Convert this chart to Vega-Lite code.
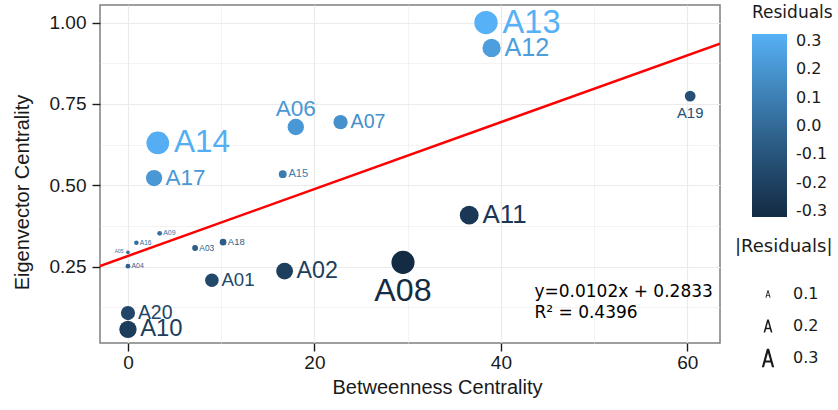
{
  "$schema": "https://vega.github.io/schema/vega-lite/v6.json",
  "width": 620,
  "height": 338,
  "autosize": {"type": "none"},
  "padding": {"left": 100, "top": 5, "right": 118, "bottom": 67},
  "background": "white",
  "config": {
    "view": {"stroke": "#7f7f7f", "strokeWidth": 1.5},
    "axis": {
      "domain": false,
      "gridColor": "#ebebeb",
      "tickColor": "#1a1a1a",
      "tickWidth": 1.4,
      "tickSize": 8,
      "labelFont": "Liberation Sans",
      "labelFontSize": 19,
      "labelColor": "#1a1a1a",
      "titleFont": "Liberation Sans",
      "titleFontSize": 20,
      "titleFontWeight": "normal",
      "titleColor": "#1a1a1a"
    },
    "legend": {
      "titleFont": "DejaVu Sans",
      "labelFont": "DejaVu Sans",
      "titleFontWeight": "normal",
      "titleFontSize": 17,
      "labelFontSize": 16,
      "titleColor": "#1a1a1a",
      "labelColor": "#1a1a1a"
    }
  },
  "datasets": {
    "nodes": [
      {"name": "A01", "bc": 9.0, "ec": 0.208, "resid": -0.167, "absres": 0.167},
      {"name": "A02", "bc": 16.8, "ec": 0.236, "resid": -0.219, "absres": 0.219},
      {"name": "A03", "bc": 7.2, "ec": 0.307, "resid": -0.050, "absres": 0.050},
      {"name": "A04", "bc": 0.0, "ec": 0.251, "resid": -0.033, "absres": 0.033},
      {"name": "A05", "bc": 0.0, "ec": 0.294, "resid": 0.010, "absres": 0.010},
      {"name": "A06", "bc": 18.0, "ec": 0.679, "resid": 0.212, "absres": 0.212},
      {"name": "A07", "bc": 22.8, "ec": 0.694, "resid": 0.178, "absres": 0.178},
      {"name": "A08", "bc": 29.5, "ec": 0.263, "resid": -0.321, "absres": 0.321},
      {"name": "A09", "bc": 3.4, "ec": 0.352, "resid": 0.034, "absres": 0.034},
      {"name": "A10", "bc": 0.0, "ec": 0.057, "resid": -0.226, "absres": 0.226},
      {"name": "A11", "bc": 36.6, "ec": 0.408, "resid": -0.249, "absres": 0.249},
      {"name": "A12", "bc": 39.0, "ec": 0.922, "resid": 0.241, "absres": 0.241},
      {"name": "A13", "bc": 38.4, "ec": 1.000, "resid": 0.325, "absres": 0.325},
      {"name": "A14", "bc": 3.2, "ec": 0.630, "resid": 0.314, "absres": 0.314},
      {"name": "A15", "bc": 16.6, "ec": 0.534, "resid": 0.081, "absres": 0.081},
      {"name": "A16", "bc": 0.9, "ec": 0.323, "resid": 0.030, "absres": 0.030},
      {"name": "A17", "bc": 2.8, "ec": 0.522, "resid": 0.210, "absres": 0.210},
      {"name": "A18", "bc": 10.2, "ec": 0.325, "resid": -0.062, "absres": 0.062},
      {"name": "A19", "bc": 60.3, "ec": 0.774, "resid": -0.124, "absres": 0.124},
      {"name": "A20", "bc": 0.0, "ec": 0.107, "resid": -0.176, "absres": 0.176}
    ],
    "note": [
      {"bc": 43.6, "ec": 0.172, "text": "y=0.0102x + 0.2833"},
      {"bc": 43.6, "ec": 0.107, "text": "R² = 0.4396"}
    ]
  },
  "layer": [
    {
      "data": {"name": "nodes"},
      "transform": [{"regression": "ec", "on": "bc", "extent": [-3.0, 63.5]}],
      "mark": {"type": "line", "color": "#ff0000", "strokeWidth": 2.5, "clip": true},
      "encoding": {
        "x": {
          "field": "bc", "type": "quantitative",
          "scale": {"domain": [-3.0, 63.5], "nice": false, "zero": false},
          "axis": {
            "title": "Betweenness Centrality",
            "values": [0, 10, 20, 30, 40, 50, 60],
            "labelExpr": "datum.value % 20 === 0 ? datum.label : ''",
            "labelFontSize": 19,
            "tickOpacity": {"condition": {"test": "datum.value % 20 === 0", "value": 1}, "value": 0},
            "gridWidth": {"condition": {"test": "datum.value % 20 === 0", "value": 1.2}, "value": 0.6},
            "labelPadding": 2,
            "titlePadding": 5,
            "titleX": 337
          }
        },
        "y": {
          "field": "ec", "type": "quantitative",
          "scale": {"domain": [0.015, 1.054], "nice": false, "zero": false},
          "axis": {
            "title": "Eigenvector Centrality",
            "values": [0.125, 0.25, 0.375, 0.5, 0.625, 0.75, 0.875, 1.0],
            "labelExpr": "(datum.value * 4) % 1 === 0 ? format(datum.value, '.2f') : ''",
            "labelFontSize": 19,
            "tickOpacity": {"condition": {"test": "(datum.value * 4) % 1 === 0", "value": 1}, "value": 0},
            "gridWidth": {"condition": {"test": "(datum.value * 4) % 1 === 0", "value": 1.2}, "value": 0.6},
            "labelPadding": 6,
            "titlePadding": 17,
            "titleY": 187
          }
        }
      }
    },
    {
      "data": {"name": "nodes"},
      "mark": {"type": "circle", "opacity": 1},
      "encoding": {
        "x": {"field": "bc", "type": "quantitative"},
        "y": {"field": "ec", "type": "quantitative"},
        "color": {
          "field": "resid", "type": "quantitative",
          "scale": {"range": ["#132B43", "#56B1F7"], "interpolate": "lab"},
          "legend": {
            "title": "Residuals",
            "orient": "none",
            "direction": "vertical",
            "legendX": 652,
            "legendY": 0,
            "gradientLength": 183,
            "gradientThickness": 35,
            "gradientStrokeWidth": 0,
            "values": [-0.3, -0.2, -0.1, 0, 0.1, 0.2, 0.3],
            "format": ".1f",
            "labelExpr": "replace(datum.label, '−', '-')",
            "titlePadding": 12,
            "labelOffset": 9,
            "encode": {"title": {"update": {"dx": {"value": -19}}}}
          }
        },
        "size": {
          "field": "absres", "type": "quantitative",
          "scale": {"type": "pow", "exponent": 1.7, "domain": [0, 0.33], "range": [12, 560]},
          "legend": {
            "title": "|Residuals|",
            "orient": "none",
            "direction": "vertical",
            "legendX": 635,
            "legendY": 233,
            "values": [0.1, 0.2, 0.3],
            "format": ".1f",
            "symbolType": "M-0.566,0.841L-0.102,-0.841L0.102,-0.841L0.566,0.841L0.363,0.841L0.242,0.406L-0.242,0.406L-0.363,0.841ZM-0.194,0.232L0.194,0.232L0,-0.464Z",
            "symbolFillColor": "#1a1a1a",
            "symbolStrokeColor": "transparent",
            "symbolStrokeWidth": 0,
            "symbolOpacity": 1,
            "symbolOffset": 22,
            "labelOffset": 14,
            "clipHeight": 22,
            "rowPadding": 10,
            "titlePadding": 27,
            "titleFontSize": 18
          }
        }
      }
    },
    {
      "data": {"name": "nodes"},
      "transform": [{"filter": {"field": "name", "oneOf": ["A01", "A02", "A03", "A04", "A07", "A09", "A10", "A11", "A12", "A13", "A14", "A15", "A16", "A17", "A18", "A20"]}}],
      "mark": {"type": "text", "align": "left", "baseline": "middle", "font": "Liberation Sans", "dx": {"expr": "2 + 45 * datum.absres"}},
      "encoding": {
        "x": {"field": "bc", "type": "quantitative"},
        "y": {"field": "ec", "type": "quantitative"},
        "text": {"field": "name"},
        "color": {"field": "resid", "type": "quantitative"},
        "size": {"field": "absres", "type": "quantitative", "scale": {"domain": [0, 0.33], "range": [4, 33]}, "legend": null}
      }
    },
    {
      "data": {"name": "nodes"},
      "transform": [{"filter": {"field": "name", "oneOf": ["A08", "A19"]}}],
      "mark": {"type": "text", "align": "center", "baseline": "top", "font": "Liberation Sans", "dy": {"expr": "8 + 17 * datum.absres"}},
      "encoding": {
        "x": {"field": "bc", "type": "quantitative"},
        "y": {"field": "ec", "type": "quantitative"},
        "text": {"field": "name"},
        "color": {"field": "resid", "type": "quantitative"},
        "size": {"field": "absres", "type": "quantitative", "scale": {"domain": [0, 0.33], "range": [4, 33]}, "legend": null}
      }
    },
    {
      "data": {"name": "nodes"},
      "transform": [{"filter": {"field": "name", "oneOf": ["A06"]}}],
      "mark": {"type": "text", "align": "center", "baseline": "alphabetic", "font": "Liberation Sans", "dy": {"expr": "-(2 + 42 * datum.absres)"}},
      "encoding": {
        "x": {"field": "bc", "type": "quantitative"},
        "y": {"field": "ec", "type": "quantitative"},
        "text": {"field": "name"},
        "color": {"field": "resid", "type": "quantitative"},
        "size": {"field": "absres", "type": "quantitative", "scale": {"domain": [0, 0.33], "range": [4, 33]}, "legend": null}
      }
    },
    {
      "data": {"name": "nodes"},
      "transform": [{"filter": {"field": "name", "oneOf": ["A05"]}}],
      "mark": {"type": "text", "align": "right", "baseline": "middle", "font": "Liberation Sans", "dx": {"expr": "-(4 + 45 * datum.absres)"}},
      "encoding": {
        "x": {"field": "bc", "type": "quantitative"},
        "y": {"field": "ec", "type": "quantitative"},
        "text": {"field": "name"},
        "color": {"field": "resid", "type": "quantitative"},
        "size": {"field": "absres", "type": "quantitative", "scale": {"domain": [0, 0.33], "range": [4, 33]}, "legend": null}
      }
    },
    {
      "data": {"name": "note"},
      "mark": {"type": "text", "align": "left", "baseline": "middle", "font": "DejaVu Sans", "fontSize": 17, "color": "#000000"},
      "encoding": {
        "x": {"field": "bc", "type": "quantitative"},
        "y": {"field": "ec", "type": "quantitative"},
        "text": {"field": "text"}
      }
    }
  ],
  "resolve": {"scale": {"size": "independent"}, "legend": {"size": "independent"}}
}
